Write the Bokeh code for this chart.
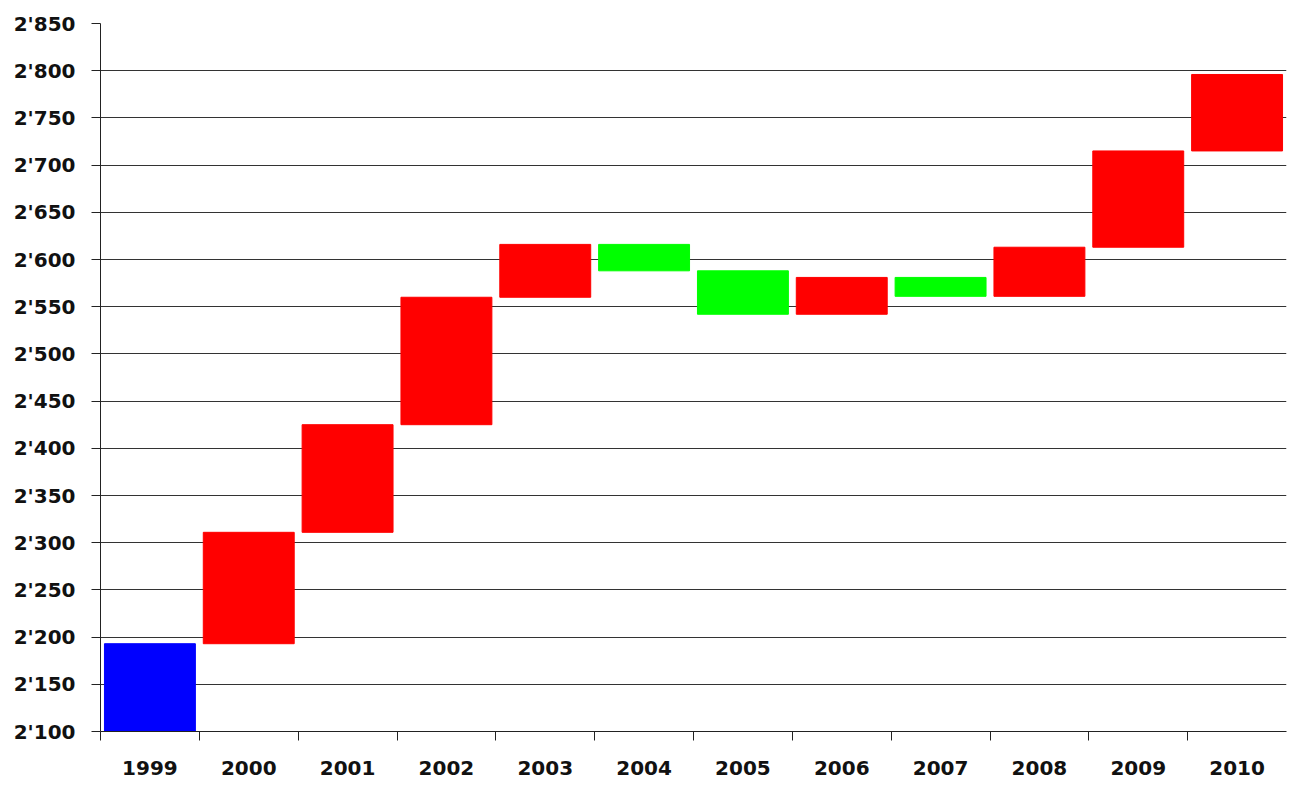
from bokeh.plotting import figure
from bokeh.models import ColumnDataSource, Range1d, FixedTicker
from bokeh.embed import file_html
from bokeh.resources import INLINE

years = ["1999", "2000", "2001", "2002", "2003", "2004", "2005", "2006", "2007", "2008", "2009", "2010"]
levels = [2193, 2311, 2425, 2560, 2616, 2588, 2542, 2581, 2561, 2613, 2715, 2796]
axis_min = 2100
axis_max = 2850
y_ticks = list(range(2100, 2851, 50))

bottoms = [axis_min] + levels[:-1]
tops = levels
colors = ["#0000FF"] + ["#FF0000" if levels[i] > levels[i - 1] else "#00FF00" for i in range(1, len(levels))]
centers = [i + 0.5 for i in range(len(years))]

src = ColumnDataSource(dict(x=centers, bottom=bottoms, top=tops, color=colors))

p = figure(width=1290, height=785, output_backend="svg", toolbar_location=None,
           x_range=Range1d(0, len(years)), y_range=Range1d(axis_min, axis_max))
p.min_border_left = 100
p.min_border_right = 4
p.min_border_top = 23
p.min_border_bottom = 54
p.outline_line_color = None
p.background_fill_color = "white"

p.vbar(x="x", bottom="bottom", top="top", width=0.92, color="color", source=src)

font = "DejaVu Sans"

# x axis
p.xgrid.visible = False
xa = p.xaxis[0]
xa.ticker = FixedTicker(ticks=centers, minor_ticks=list(range(len(years))))
xa.major_label_overrides = {c: y for c, y in zip(centers, years)}
xa.major_tick_out = 0
xa.major_tick_in = 0
xa.minor_tick_out = 9
xa.minor_tick_in = 0
xa.minor_tick_line_color = "#222222"
xa.axis_line_color = "#222222"
xa.major_label_standoff = 20
xa.major_label_text_font = font
xa.major_label_text_font_style = "bold"
xa.major_label_text_font_size = "20px"
xa.major_label_text_color = "#111111"

# y axis
ya = p.yaxis[0]
ya.ticker = FixedTicker(ticks=y_ticks, minor_ticks=[])
ya.major_label_overrides = {t: f"{t // 1000}'{t % 1000:03d}" for t in y_ticks}
ya.major_tick_out = 9
ya.major_tick_in = 0
ya.major_tick_line_color = "#222222"
ya.axis_line_color = "#222222"
ya.major_label_standoff = 16
ya.major_label_text_font = font
ya.major_label_text_font_style = "bold"
ya.major_label_text_font_size = "20px"
ya.major_label_text_color = "#111111"

p.ygrid.grid_line_color = "#333333"
p.ygrid.grid_line_width = 1.2
p.ygrid.level = "underlay"

open("out.html", "w").write(file_html(p, INLINE))
